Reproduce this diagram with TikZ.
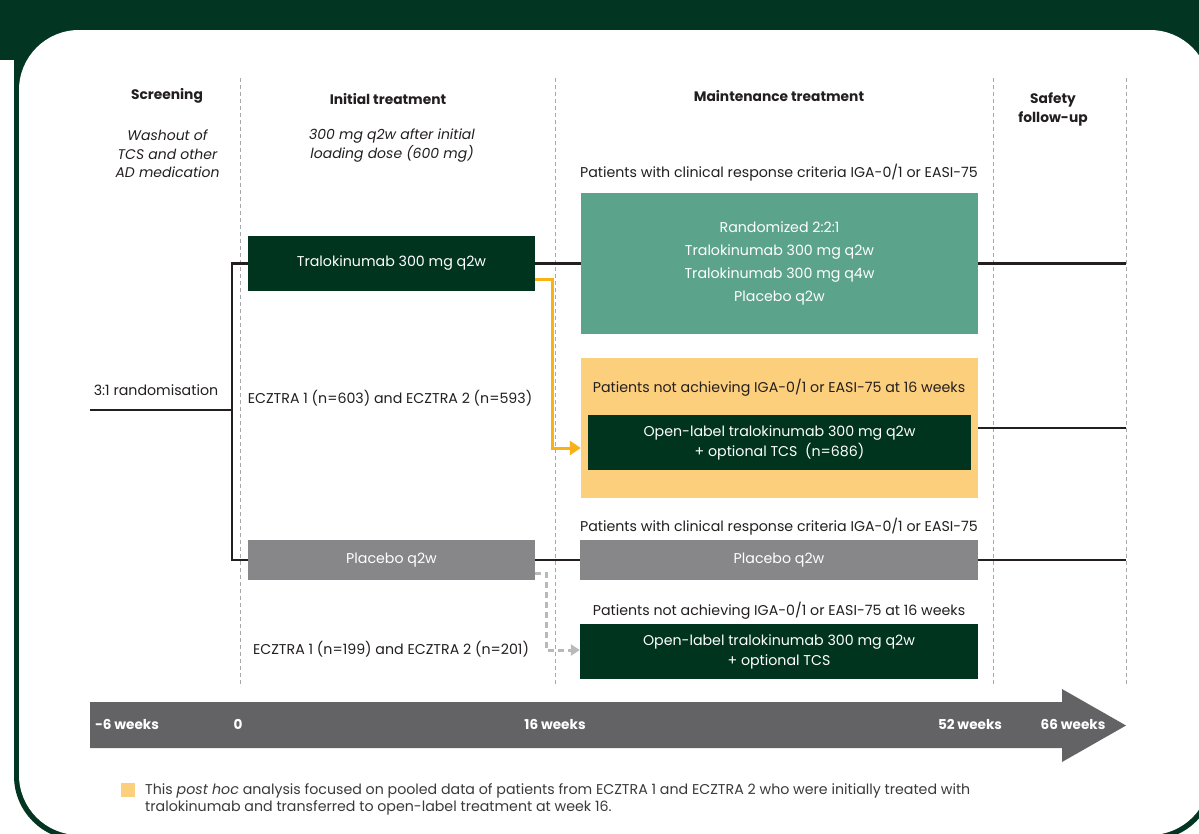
\documentclass[tikz,border=0pt]{standalone}
\usepackage{fontspec}
\setmainfont{Poppins}
\usetikzlibrary{arrows.meta}
\definecolor{framec}{HTML}{023623}
\definecolor{boxdark}{HTML}{01341F}
\definecolor{greenc}{HTML}{5BA38A}
\definecolor{orlight}{HTML}{FCCF7C}
\definecolor{orc}{HTML}{F7B216}
\definecolor{greyc}{HTML}{87878A}
\definecolor{timec}{HTML}{636365}
\definecolor{vdash}{HTML}{A8A8AA}
\definecolor{txtc}{HTML}{231F20}
\definecolor{legc}{HTML}{3A3A3A}
\definecolor{dashar}{HTML}{B9B9BC}
\tikzset{
  txt/.style={text=txtc, inner sep=0pt, align=center, font=\fontsize{14.2}{18.5}\selectfont},
  hdr/.style={txt, font=\bfseries\fontsize{13.8}{19}\selectfont},
  ital/.style={txt, font=\itshape\fontsize{14}{18.5}\selectfont},
  boxbase/.style={inner sep=0pt, text=white, align=center, font=\fontsize{14.2}{20}\selectfont},
  darkbox/.style={boxbase, fill=boxdark},
  greenbox/.style={boxbase, fill=greenc, font=\fontsize{14.2}{23}\selectfont},
  greybox/.style={boxbase, fill=greyc},
  orangebox/.style={boxbase, fill=orlight},
  blk/.style={draw=txtc, line width=2.6pt},
  orarrow/.style={draw=orc, line width=3pt, -{Triangle[length=11pt,width=14pt]}},
  greyarrow/.style={draw=dashar, line width=3pt, dash pattern=on 6pt off 4pt, -{Triangle[length=9pt,width=11pt]}},
  vline/.style={draw=vdash, line width=0.8pt, dash pattern=on 4pt off 3pt},
  tlabel/.style={text=white, inner sep=0pt, font=\bfseries\fontsize{13.6}{15}\selectfont},
}
\begin{document}
\begin{tikzpicture}[x=1pt,y=-1pt]
\useasboundingbox (0,0) rectangle (1199,833);
% background frame
\fill[white] (0,0) rectangle (1199,833);
\fill[framec] (0,0) rectangle (1199,60);
\fill[framec, rounded corners=64pt] (14,-100) rectangle (1215,840);
\fill[white, rounded corners=60pt] (19,30) rectangle (1210,835);

% vertical dashed lines
\foreach \xx in {240,555,993,1126}
  \draw[vline] (\xx,78) -- (\xx,687);

% headers
\node[hdr] (hscr) at (167,96) {Screening};
\node[ital] (iscr) at (167.5,154) {Washout of\\TCS and other\\AD medication};
\node[hdr] (hini) at (388,99) {Initial treatment};
\node[ital] (iini) at (392,145.5) {300 mg q2w after initial\\loading dose (600 mg)};
\node[hdr] (hmai) at (779,96) {Maintenance treatment};
\node[hdr] (hsaf) at (1053,109.5) {Safety\\follow-up};

% upper arm
\node[txt] (crit1) at (779,173) {Patients with clinical response criteria IGA-0/1 or EASI-75};
\node[darkbox, minimum width=287pt, minimum height=55pt] (t1) at (391.5,263.5) {Tralokinumab 300 mg q2w};
\node[greenbox, minimum width=397pt, minimum height=141pt] (g1) at (779.5,263.5)
  {Randomized 2:2:1\\Tralokinumab 300 mg q2w\\Tralokinumab 300 mg q4w\\Placebo q2w};
\node[orangebox, minimum width=397pt, minimum height=140pt] (o1) at (779.5,428) {};
\node[txt] (nach1) at (779,388) {Patients not achieving IGA-0/1 or EASI-75 at 16 weeks};
\node[darkbox, minimum width=383pt, minimum height=55pt] (ol) at (779.5,442.5)
  {Open-label tralokinumab 300 mg q2w\\+ optional TCS\ \ (n=686)};

\node[txt] (rand) at (156,390) {3:1 randomisation};
\node[txt] (ecz1) at (390,398) {ECZTRA 1 (n=603) and ECZTRA 2 (n=593)};

% lower arm
\node[greybox, minimum width=287pt, minimum height=40pt] (p1) at (391.5,560) {Placebo q2w};
\node[txt] (crit2) at (779,527) {Patients with clinical response criteria IGA-0/1 or EASI-75};
\node[greybox, minimum width=398pt, minimum height=40pt] (p2) at (779,560) {Placebo q2w};
\node[txt] (nach2) at (779,611) {Patients not achieving IGA-0/1 or EASI-75 at 16 weeks};
\node[darkbox, minimum width=398pt, minimum height=55pt] (d2) at (779,651.5)
  {Open-label tralokinumab 300 mg q2w\\+ optional TCS};
\node[txt] (ecz2) at (391,649) {ECZTRA 1 (n=199) and ECZTRA 2 (n=201)};

% connectors
\coordinate (start) at (90,410);
\coordinate (split) at (232,410);
\coordinate (end1) at (1126,263.5);
\coordinate (end2) at (1126,428);
\coordinate (end3) at (1126,560);
\draw[blk] (start) -- (split);
\draw[blk] (t1.west) -| (split) |- (p1.west);
\draw[blk] (t1.east) -- (g1.west);
\draw[blk] (g1.east) -- (end1);
\draw[blk] (o1.east) -- (end2);
\draw[blk] (p1.east) -- (p2.west);
\draw[blk] (p2.east) -- (end3);
\draw[orarrow] ([yshift=12pt]t1.south east) -- ++(17,0) |- ([yshift=-5.5pt]ol.west -| o1.west);
\draw[greyarrow] ([yshift=7pt]p1.south east) -- ++(11,0) |- ([yshift=1.5pt]d2.west);

% timeline
\fill[timec] (90,702) -- (1062,702) -- (1062,689) -- (1126,725.5) -- (1062,762) -- (1062,748) -- (90,748) -- cycle;
\node[tlabel] (w6) at (127,724.5) {-6 weeks};
\node[tlabel] (w0) at (238,724.5) {0};
\node[tlabel] (w16) at (555,724.5) {16 weeks};
\node[tlabel] (w52) at (970,724.5) {52 weeks};
\node[tlabel] (w66) at (1073,724.5) {66 weeks};

% legend
\fill[orlight] (121,783) rectangle (135,797);
\node[txt, text=legc, align=left, anchor=west, font=\fontsize{14.2}{17}\selectfont] (leg) at (145,799.5)
  {This \textit{post hoc} analysis focused on pooled data of patients from ECZTRA 1 and ECZTRA 2 who were initially treated with\\tralokinumab and transferred to open-label treatment at week 16.};
\end{tikzpicture}
\end{document}
